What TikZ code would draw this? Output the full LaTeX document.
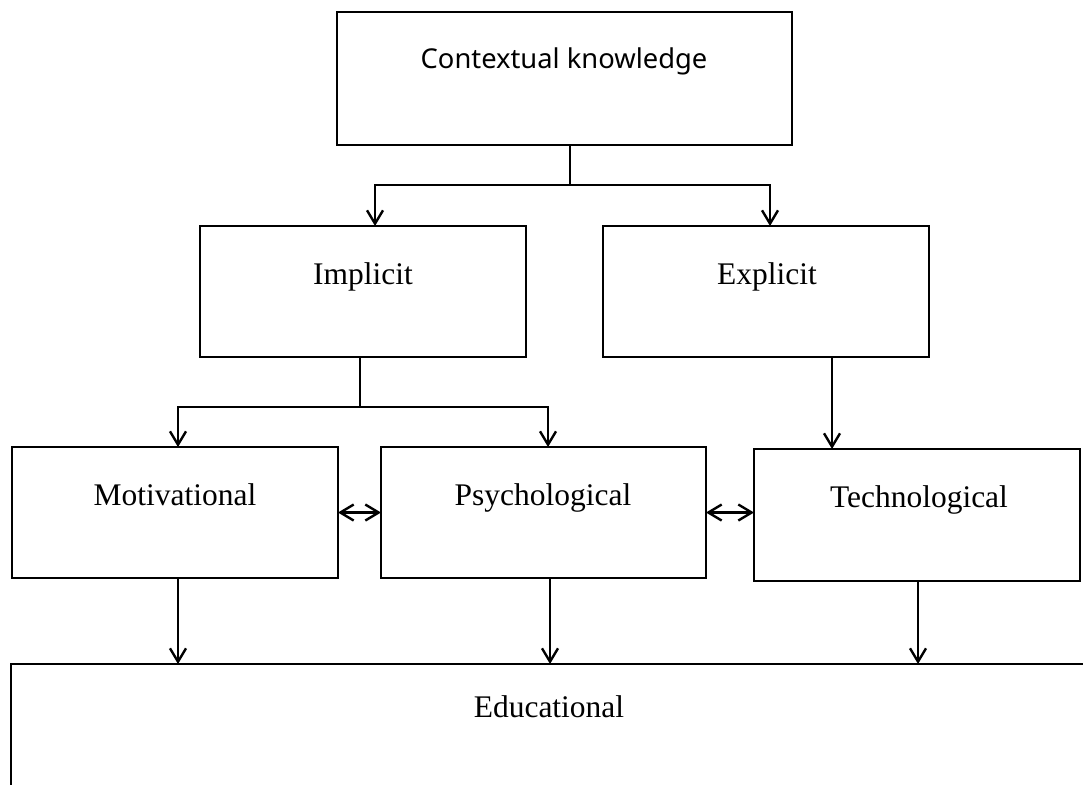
\documentclass[tikz,border=0pt]{standalone}
\usepackage{fontspec}
\setmainfont{Liberation Serif}
\newfontfamily\headfont{Noto Sans}
\usetikzlibrary{arrows.meta,fit}
\begin{document}
\begin{tikzpicture}[x=0.75pt,y=-0.75pt,
  box/.style={draw, line width=2.1pt, inner sep=0pt, outer sep=0pt},
  lbl/.style={anchor=base, inner sep=0pt, font=\fontsize{23.6pt}{28pt}\selectfont},
  headlbl/.style={anchor=base, inner sep=0pt, font=\headfont\fontsize{20.5pt}{25pt}\selectfont},
  link/.style={line width=1.8pt},
  tip/.style={Straight Barb[length=10pt, width=12pt, line width=1.8pt]},
  arr/.style={link, -{Straight Barb[length=10pt, width=12pt, line width=1.8pt]}},
  darr/.style={link, {Straight Barb[length=10pt, width=12pt, line width=1.8pt]}-{Straight Barb[length=10pt, width=12pt, line width=1.8pt]}}]

\useasboundingbox (0,0) rectangle (1083,785);
\clip (0,0) rectangle (1083,785);

% boxes
\node[box, fit={(337,12) (792,145)}] (ctx) {};
\node[box, fit={(200,226) (526,357)}] (imp) {};
\node[box, fit={(603,226) (929,357)}] (exp) {};
\node[box, fit={(12,447) (338,578)}] (mot) {};
\node[box, fit={(381,447) (706,578)}] (psy) {};
\node[box, fit={(754,449) (1080,581)}] (tec) {};
\node[box, fit={(11,664) (1200,900)}] (edu) {};

% labels
\node[headlbl] (ctxT) at (564,68) {Contextual knowledge};
\node[lbl] (impT) at (363,284) {Implicit};
\node[lbl] (expT) at (767,284) {Explicit};
\node[lbl] (motT) at (175,505) {Motivational};
\node[lbl] (psyT) at (543,505) {Psychological};
\node[lbl] (tecT) at (919,507) {Technological};
\node[lbl] (eduT) at (549,717) {Educational};

% branch points and guide positions
\coordinate (s1) at (570,185);
\coordinate (b1) at (375,185);
\coordinate (b2) at (770,185);
\coordinate (s2) at (360,407);
\coordinate (b3) at (178,407);
\coordinate (b4) at (548,407);
\coordinate (g1) at (832,0);
\coordinate (g2) at (178,0);
\coordinate (g3) at (550,0);
\coordinate (g4) at (918,0);

% contextual knowledge splits into implicit and explicit
\draw[link] (s1 |- ctx.south) -- (s1);
\draw[arr] (s1) -| (b1 |- imp.north);
\draw[arr] (s1) -| (b2 |- exp.north);

% implicit splits into motivational and psychological
\draw[link] (s2 |- imp.south) -- (s2);
\draw[arr] (s2) -| (b3 |- mot.north);
\draw[arr] (s2) -| (b4 |- psy.north);

% explicit leads to technological
\draw[arr] (g1 |- exp.south) -- (g1 |- tec.north);

% mutual links
\draw[darr] (mot.east) -- (mot.east -| psy.west);
\draw[darr] (psy.east) -- (psy.east -| tec.west);

% all three feed into educational
\draw[arr] (g2 |- mot.south) -- (g2 |- edu.north);
\draw[arr] (g3 |- psy.south) -- (g3 |- edu.north);
\draw[arr] (g4 |- tec.south) -- (g4 |- edu.north);
\end{tikzpicture}
\end{document}
